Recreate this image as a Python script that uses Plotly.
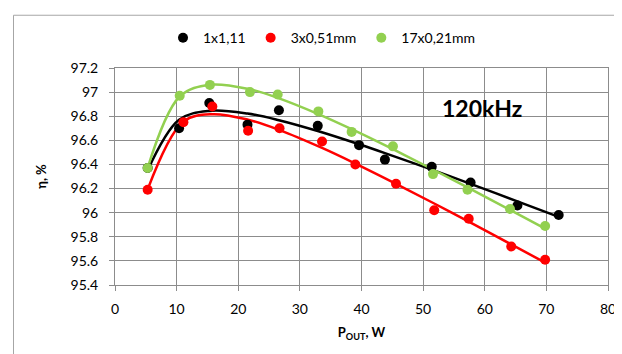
import numpy as np
import plotly.graph_objects as go

# ---- data ----
series_names = ["1x1,11", "3x0,51mm", "17x0,21mm"]
series_colors = ["#000000", "#FF0000", "#92D050"]

p_black = [5.3, 10.4, 15.3, 21.5, 26.6, 32.9, 39.6, 43.8, 51.4, 57.7, 65.3, 72.0]
eta_black = [96.37, 96.70, 96.91, 96.73, 96.85, 96.72, 96.56, 96.44, 96.38, 96.25, 96.06, 95.98]

p_red = [5.3, 11.1, 15.8, 21.6, 26.7, 33.6, 39.0, 45.6, 51.8, 57.4, 64.3, 69.8]
eta_red = [96.19, 96.75, 96.88, 96.68, 96.70, 96.59, 96.40, 96.24, 96.02, 95.95, 95.72, 95.61]

p_green = [5.3, 10.5, 15.4, 21.9, 26.4, 33.0, 38.4, 45.1, 51.6, 57.2, 64.1, 69.8]
eta_green = [96.37, 96.97, 97.06, 97.00, 96.98, 96.84, 96.67, 96.55, 96.32, 96.19, 96.03, 95.89]

x_ticks = [0, 10, 20, 30, 40, 50, 60, 70, 80]
y_range = [95.4, 97.2]
annotation_text = "120kHz"

# ---- layout constants (pixels) ----
W, H = 622, 354
ML, MR, MT, MB = 107, 22, 59.5, 76.5
PW, PH = W - ML - MR, H - MT - MB
FONT = "Lato, 'Open Sans', Arial, sans-serif"
GRID = "#8c8c8c"


def px_to_paper_x(px):
    return (px - ML) / PW


def px_to_paper_y(py):
    return (H - MB - py) / PH


def loss_model(p, eta):
    """Fit eta = 100 P / (P + k0 + k1 P + k2 P^2) (weighted least squares),
    evaluated at the measured powers."""
    p = np.asarray(p, float)
    eta = np.asarray(eta, float)
    loss = p * (100.0 / eta - 1.0)
    A = np.vstack([np.ones_like(p), p, p ** 2]).T
    w = 1.0 / p
    k, *_ = np.linalg.lstsq(A * w[:, None], loss * w, rcond=None)
    fitted = k[0] + k[1] * p + k[2] * p ** 2
    return p, 100.0 * p / (p + fitted)


fig = go.Figure()
all_series = [(p_black, eta_black), (p_red, eta_red), (p_green, eta_green)]

for (px_, ey), name, col in zip(all_series, series_names, series_colors):
    xs, ys = loss_model(px_, ey)
    fig.add_trace(go.Scatter(x=xs, y=ys, mode="lines",
                             line=dict(color=col, width=2.5, shape="spline", smoothing=1.0),
                             showlegend=False, hoverinfo="skip"))

for (px_, ey), name, col in zip(all_series, series_names, series_colors):
    fig.add_trace(go.Scatter(x=px_, y=ey, mode="markers", name=name,
                             marker=dict(color=col, size=10)))

fig.add_annotation(x=59.6, y=96.865, xref="x", yref="y", text="<b>" + annotation_text + "</b>",
                   showarrow=False, font=dict(family=FONT, size=23, color="#000000"))

# outer chart border
fig.add_shape(type="rect", xref="paper", yref="paper",
              x0=px_to_paper_x(5.5), x1=px_to_paper_x(619.5),
              y0=px_to_paper_y(H + 10), y1=px_to_paper_y(6.5),
              line=dict(color="#a6a6a6", width=1), fillcolor="rgba(0,0,0,0)", layer="below")

fig.update_layout(
    width=W, height=H,
    margin=dict(l=ML, r=MR, t=MT, b=MB, pad=0),
    paper_bgcolor="white", plot_bgcolor="white",
    font=dict(family=FONT, size=13, color="#000000"),
    legend=dict(orientation="h", x=px_to_paper_x(314), y=px_to_paper_y(29.5),
                xanchor="center", yanchor="middle",
                font=dict(family=FONT, size=14), itemwidth=30,
                bgcolor="rgba(0,0,0,0)", tracegroupgap=0),
    showlegend=True,
)

fig.update_xaxes(range=[0, 80], tickvals=x_ticks, showgrid=True, gridcolor=GRID, gridwidth=1,
                 showline=True, linecolor=GRID, linewidth=1, mirror=True,
                 ticks="outside", ticklen=5, tickcolor=GRID, ticklabelstandoff=6,
                 tickfont=dict(family=FONT, size=14), zeroline=False,
                 title=dict(text="<b>P<sub>OUT</sub>, W</b>", font=dict(family=FONT, size=13), standoff=12))
fig.update_yaxes(range=y_range, dtick=0.2, tick0=95.4, showgrid=True, gridcolor=GRID, gridwidth=1,
                 showline=True, linecolor=GRID, linewidth=1, mirror=True,
                 ticks="outside", ticklen=5, tickcolor=GRID, ticklabelstandoff=8,
                 tickfont=dict(family=FONT, size=14), zeroline=False,
                 title=dict(text="<b>η, %</b>", font=dict(family=FONT, size=13), standoff=20))

fig.write_html("out.html")
